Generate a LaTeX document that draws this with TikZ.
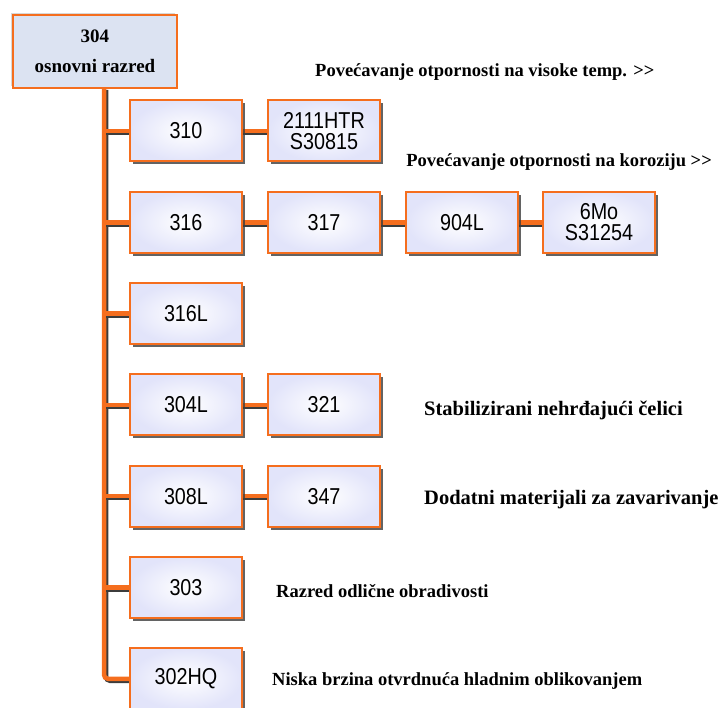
\documentclass[tikz,border=0pt]{standalone}
\usepackage{fontspec}
\setmainfont{Liberation Serif}
\newfontfamily\arialf{Liberation Sans}[FakeStretch=0.86]
\usetikzlibrary{shadows}
\definecolor{orng}{RGB}{245,110,30}
\definecolor{lav}{RGB}{226,228,250}
\definecolor{topfill}{RGB}{220,227,242}
\definecolor{shd}{RGB}{60,60,60}
\newcommand{\gtgt}{>\kern0pt>}
\tikzset{
  gbox/.style={draw=orng, line width=2pt, minimum width=112pt, minimum height=61pt,
    inner color=white, outer color=lav, align=center, font=\arialf\fontsize{23}{21}\selectfont,
    drop shadow={shadow xshift=3pt, shadow yshift=-3pt, fill=shd, opacity=0.8}},
  topbox/.style={draw=orng, line width=2pt, minimum width=164pt, minimum height=73pt,
    fill=topfill, align=center, font=\bfseries\fontsize{19}{30}\selectfont,
    drop shadow={shadow xshift=-2pt, shadow yshift=2pt, fill=black!30, opacity=0.5}},
  conn/.style={orng, line width=4.5pt, rounded corners=4pt,
    preaction={draw=shd, line width=4.5pt, transform canvas={shift={(2pt,-2pt)}}}},
  lbl/.style={font=\bfseries\fontsize{18.5}{22}\selectfont, inner sep=0pt, anchor=west},
  lblb/.style={lbl, font=\bfseries\fontsize{20.5}{22}\selectfont}
}
\begin{document}
\begin{tikzpicture}[x=1pt,y=-1pt]
\useasboundingbox (0,0) rectangle (720,708);
% trunk and connectors first
\coordinate (ttop) at (104,88);
\coordinate (tbot) at (104,678.8);
\foreach \r in {1,...,7} {\coordinate (j\r) at (104,{131+(\r-1)*91.3});}
\coordinate (b7) at (140,678.8);
\draw[conn] (ttop) -- (tbot) -- (b7);
\foreach \r in {1,...,6} {\draw[conn] (j\r) -- ++(40,0);}
% second-level connectors
\draw[conn] (180,131) -- (330,131);
\draw[conn] (180,222.3) -- (600,222.3);
\draw[conn] (180,404.9) -- (330,404.9);
\draw[conn] (180,496.2) -- (330,496.2);
% top box
\node[topbox] (top) at (95,51.5) {304\\osnovni razred};
% boxes
\node[gbox] (n310) at (186,131) {310};
\node[gbox] (n2111) at (324,131) {2111HTR\\S30815};
\node[gbox] (n316) at (186,222.3) {316};
\node[gbox] (n317) at (324,222.3) {317};
\node[gbox] (n904) at (462,222.3) {904L};
\node[gbox] (n6mo) at (599,222.3) {6Mo\\S31254};
\node[gbox] (n316L) at (186,313.6) {316L};
\node[gbox] (n304L) at (186,404.9) {304L};
\node[gbox] (n321) at (324,404.9) {321};
\node[gbox] (n308L) at (186,496.2) {308L};
\node[gbox] (n347) at (324,496.2) {347};
\node[gbox] (n303) at (186,587.5) {303};
\node[gbox] (n302) at (186,678.8) {302HQ};
% labels
\node[lbl] (l1) at (315,72) {Povećavanje otpornosti na visoke temp. \gtgt};
\node[lbl, anchor=east] (l2) at (712,162) {Povećavanje otpornosti na koroziju \gtgt};
\node[lblb] (l3) at (424,410) {Stabilizirani nehrđajući čelici};
\node[lblb] (l4) at (424,500) {Dodatni materijali za zavarivanje};
\node[lbl] (l5) at (276,591) {Razred odlične obradivosti};
\node[lbl] (l6) at (272,681) {Niska brzina otvrdnuća hladnim oblikovanjem};
\end{tikzpicture}
\end{document}
